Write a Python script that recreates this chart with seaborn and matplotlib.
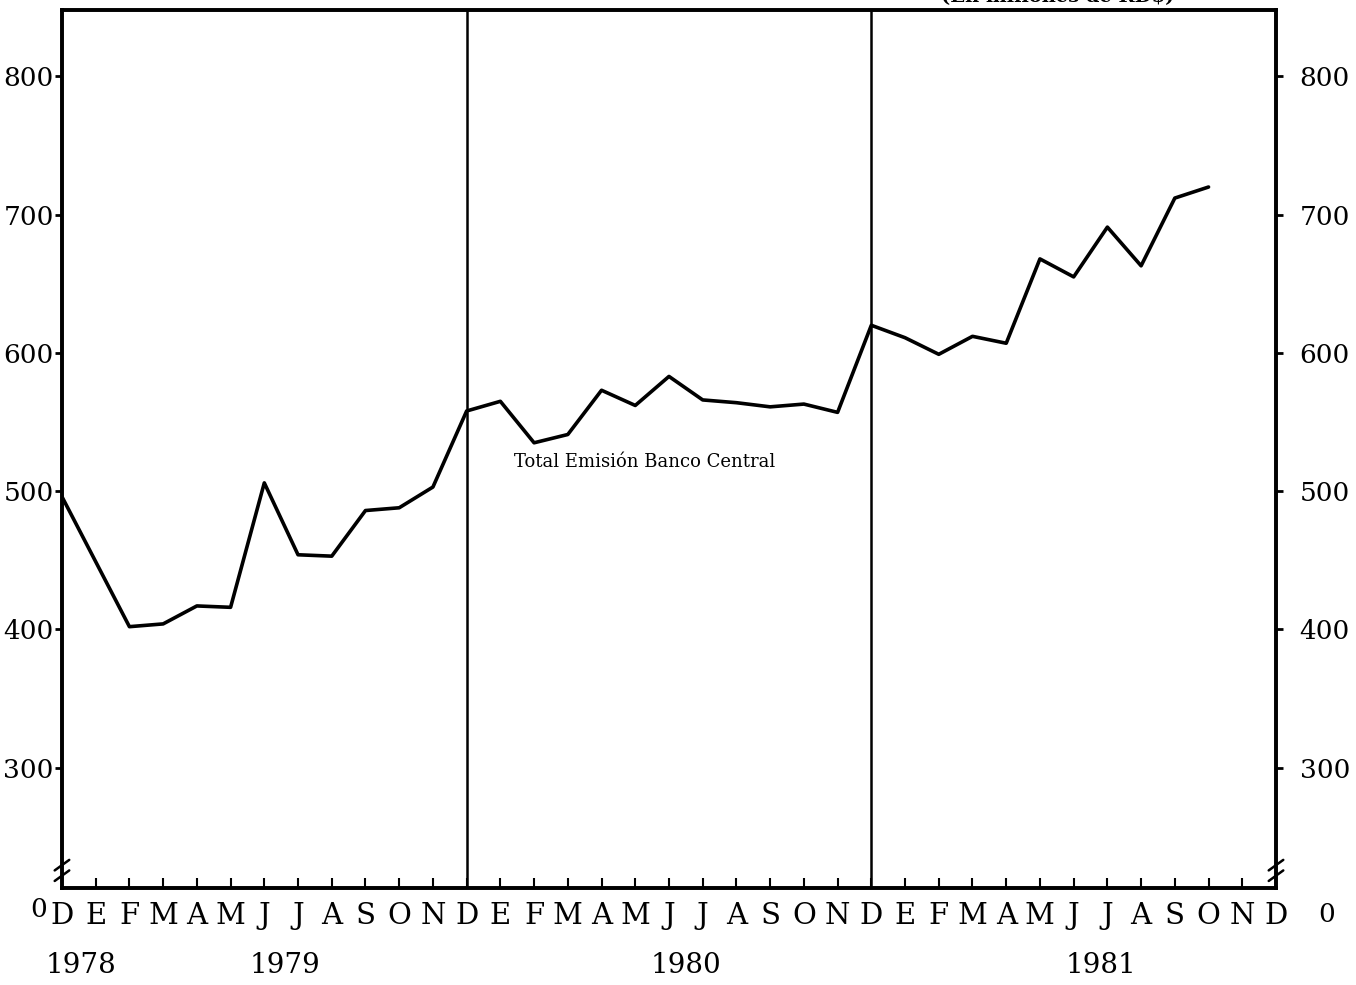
import matplotlib
matplotlib.use("Agg")
import matplotlib.pyplot as plt
import matplotlib.transforms as mtransforms
import seaborn as sns
import pandas as pd

# === Data (monthly, Dec 1978 .. Oct 1981), millions RD$
month_letters = ["D", "E", "F", "M", "A", "M", "J", "J", "A", "S", "O", "N",
                 "D", "E", "F", "M", "A", "M", "J", "J", "A", "S", "O", "N",
                 "D", "E", "F", "M", "A", "M", "J", "J", "A", "S", "O", "N",
                 "D"]
emision = [496, 449, 402, 404, 417, 416, 506, 454, 453, 486, 488, 503,
           558, 565, 535, 541, 573, 562, 583, 566, 564, 561, 563, 557,
           620, 611, 599, 612, 607, 668, 655, 691, 663, 712, 720]
year_labels = ["1978", "1979", "1980", "1981"]
year_pos = [0.55, 6.6, 18.5, 30.8]
yticks = [300, 400, 500, 600, 700, 800]

df = pd.DataFrame({"mes": range(len(emision)), "emision": emision})

# === Style
sns.set_style("ticks")
plt.rcParams["font.family"] = ["DejaVu Serif"]
plt.rcParams["text.color"] = "black"
plt.rcParams["axes.edgecolor"] = "black"
plt.rcParams["xtick.color"] = "black"
plt.rcParams["ytick.color"] = "black"

fig = plt.figure(figsize=(13.56, 9.85), dpi=100)
ax = fig.add_axes([0.0457, 0.0985, 0.8953, 0.8913])

sns.lineplot(data=df, x="mes", y="emision", ax=ax, color="black", linewidth=2.6)

ax.set_xlim(0, 36)
ax.set_ylim(213, 848)
ax.set_xlabel("")
ax.set_ylabel("")

for s in ax.spines.values():
    s.set_linewidth(2.6)
    s.set_visible(True)

# year separators
for xv in [12, 24]:
    ax.axvline(xv, color="black", linewidth=1.8)

ax.set_xticks(range(len(month_letters)))
ax.set_xticklabels(month_letters, fontsize=21)
ax.tick_params(axis="x", direction="in", length=7, width=1.5, pad=10)
ax.set_yticks(yticks)
ax.set_yticklabels([str(v) for v in yticks], fontsize=19)
ax.tick_params(axis="y", direction="out", length=5, width=2, pad=1)

ax2 = ax.twinx()
ax2.set_ylim(ax.get_ylim())
ax2.set_yticks(yticks)
ax2.set_yticklabels([str(v) for v in yticks], fontsize=19)
ax2.tick_params(axis="y", direction="out", length=5, width=2, pad=12)
for s in ax2.spines.values():
    s.set_linewidth(2.6)

# zero labels on broken axis
ax.text(-0.012, -0.025, "0", transform=ax.transAxes, fontsize=19, ha="right", va="center")
ax.text(1.035, -0.03, "0", transform=ax.transAxes, fontsize=19, ha="left", va="center")

# axis break marks
for xa in [0.0, 1.0]:
    for dy in [-0.006, 0.006]:
        ax.plot([xa - 0.006, xa + 0.006], [0.02 + dy - 0.006, 0.02 + dy + 0.006],
                transform=ax.transAxes, color="black", linewidth=1.8, clip_on=False)

# year labels
trans = mtransforms.blended_transform_factory(ax.transData, ax.transAxes)
for lbl, xp in zip(year_labels, year_pos):
    ax.text(xp, -0.088, lbl, transform=trans, fontsize=20, ha="center", va="center")

ax.text(13.4, 521, "Total Emisión Banco Central", fontsize=13, ha="left", va="center")

fig.text(0.78, 0.994, "(En millones de RD$)", fontsize=14, fontweight="bold",
         ha="center", va="bottom")

fig.savefig("out.png", dpi=100)
